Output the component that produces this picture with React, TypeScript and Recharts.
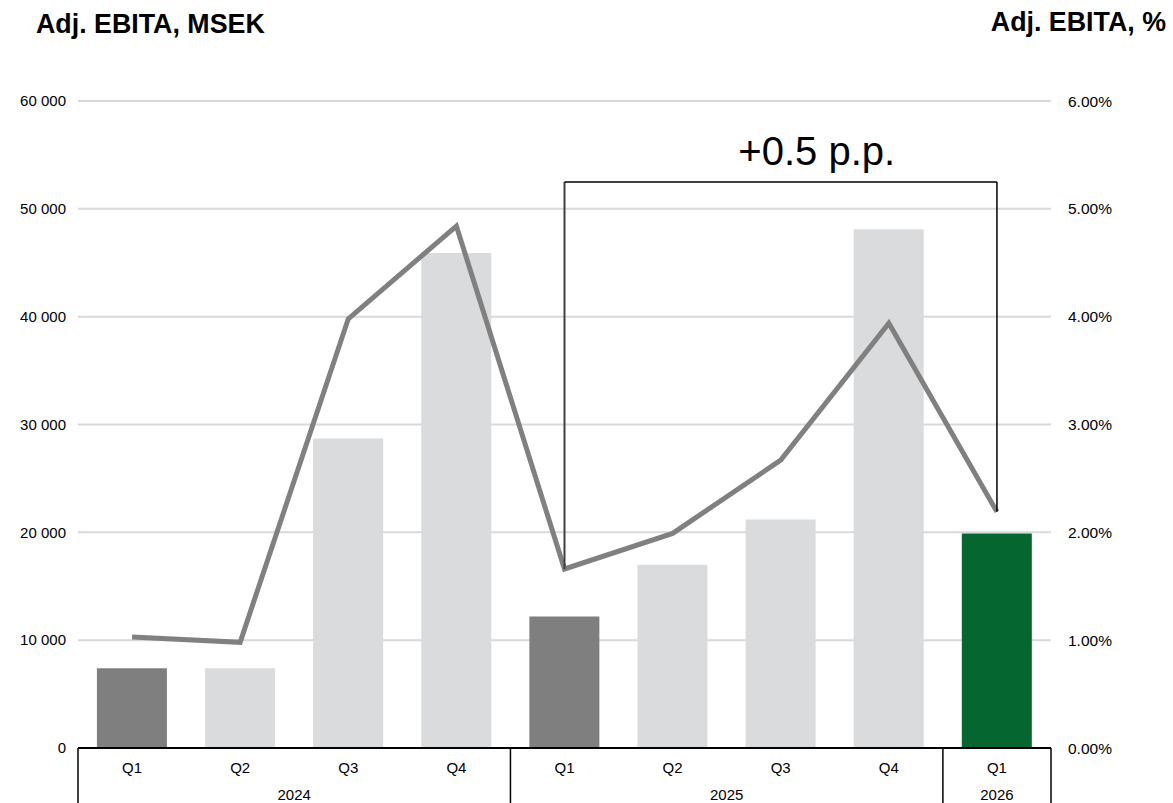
import React from 'react';
import {
  ComposedChart,
  Bar,
  Line,
  Cell,
  XAxis,
  YAxis,
  CartesianGrid,
  ReferenceLine,
} from 'recharts';

// Reporting periods
const quarters = ['Q1', 'Q2', 'Q3', 'Q4', 'Q1', 'Q2', 'Q3', 'Q4', 'Q1'];
const years = ['2024', '2024', '2024', '2024', '2025', '2025', '2025', '2025', '2026'];

// Adj. EBITA, MSEK
const ebitaMsek = [7400, 7400, 28700, 45900, 12200, 17000, 21200, 48100, 19900];
// Adj. EBITA margin, %
const ebitaPct = [1.03, 0.98, 3.98, 4.84, 1.66, 1.99, 2.67, 3.94, 2.19];

// Axis ticks
const leftTicks = [0, 10000, 20000, 30000, 40000, 50000, 60000];
const rightTicks = [0, 1, 2, 3, 4, 5, 6];

// Bar fills: year-start quarters dark, latest quarter green
const barColors = [
  '#7f7f7f', '#dadbdc', '#dadbdc', '#dadbdc',
  '#7f7f7f', '#dadbdc', '#dadbdc', '#dadbdc',
  '#06662f',
];

const data = quarters.map((q, i) => ({
  period: `${q} ${years[i]}`,
  quarter: q,
  year: years[i],
  msek: ebitaMsek[i],
  pct: ebitaPct[i],
}));

const WIDTH = 1173;
const HEIGHT = 803;
const LEFT_AXIS_W = 78;
const RIGHT_AXIS_W = 122;
const TOP = 101;
const X_AXIS_H = 55;
const BAND = (WIDTH - LEFT_AXIS_W - RIGHT_AXIS_W) / data.length;

const FONT = '"Liberation Sans", Arial, sans-serif';

// Bracket spanning the year-over-year comparison of Q1
const fromIdx = 4;
const toIdx = 8;
const BRACKET_LEVEL = 5.25;
const delta = ebitaPct[toIdx] - ebitaPct[fromIdx];
const deltaLabel = `${delta >= 0 ? '+' : ''}${delta.toFixed(1)} p.p.`;

const fmtThousands = (v: number) =>
  String(v).replace(/\B(?=(\d{3})+(?!\d))/g, ' ');

// Two-tier category tick: quarter on top, year centred below its group,
// with separators at the group boundaries.
const PeriodTick = (props: any) => {
  const { x, y, index } = props;
  const d = data[index];
  if (!d) return null;
  const isGroupStart = index === 0 || data[index - 1].year !== d.year;
  let groupLen = 0;
  if (isGroupStart) {
    for (let j = index; j < data.length && data[j].year === d.year; j++) groupLen++;
  }
  const isLast = index === data.length - 1;
  const left = x - BAND / 2;
  return (
    <g>
      <text
        x={x}
        y={y + 25}
        textAnchor="middle"
        fontSize={15}
        fontFamily={FONT}
        fill="#000"
      >
        {d.quarter}
      </text>
      {isGroupStart && (
        <>
          <line x1={left} x2={left} y1={y} y2={HEIGHT} stroke="#000" strokeWidth={1.5} />
          <text
            x={left + (groupLen * BAND) / 2}
            y={y + 52}
            textAnchor="middle"
            fontSize={15}
            fontFamily={FONT}
            fill="#000"
          >
            {d.year}
          </text>
        </>
      )}
      {isLast && (
        <line x1={x + BAND / 2} x2={x + BAND / 2} y1={y} y2={HEIGHT} stroke="#000" strokeWidth={1.5} />
      )}
    </g>
  );
};

const DeltaLabel = (props: any) => {
  const vb = props.viewBox || {};
  const cx = (vb.x ?? 0) + (vb.width ?? 0) / 2 + 36;
  const cy = (vb.y ?? 0) - 17;
  return (
    <text x={cx} y={cy} textAnchor="middle" fontSize={40} fontFamily={FONT} fill="#000">
      {deltaLabel}
    </text>
  );
};

const titleStyle: React.CSSProperties = {
  position: 'absolute',
  top: 9,
  fontSize: 26.8,
  fontWeight: 'bold',
  color: '#000',
  whiteSpace: 'nowrap',
  lineHeight: 'normal',
};

export default function App() {
  const from = data[fromIdx];
  const to = data[toIdx];
  return (
    <div
      style={{
        position: 'absolute',
        left: 0,
        top: 0,
        width: WIDTH,
        height: HEIGHT,
        background: '#fff',
        fontFamily: FONT,
      }}
    >
      <div style={{ ...titleStyle, left: 36 }}>Adj. EBITA, MSEK</div>
      <div style={{ ...titleStyle, right: 7, top: 7 }}>Adj. EBITA, %</div>
      <ComposedChart
        width={WIDTH}
        height={HEIGHT}
        data={data}
        margin={{ top: TOP, right: 0, bottom: 0, left: 0 }}
        barCategoryGap="17.5%"
      >
        <CartesianGrid
          yAxisId="msek"
          vertical={false}
          stroke="#d9d9d9"
          strokeWidth={2}
        />
        <XAxis
          dataKey="period"
          height={X_AXIS_H}
          tickLine={false}
          tickSize={0}
          tickMargin={0}
          axisLine={{ stroke: '#000', strokeWidth: 2 }}
          interval={0}
          tick={<PeriodTick />}
        />
        <YAxis
          yAxisId="msek"
          orientation="left"
          width={LEFT_AXIS_W}
          domain={[0, 60000]}
          ticks={leftTicks}
          tickFormatter={fmtThousands}
          axisLine={false}
          tickLine={false}
          tickSize={0}
          tickMargin={12}
          tick={{ fontSize: 15, fill: '#000', fontFamily: FONT }}
        />
        <YAxis
          yAxisId="pct"
          orientation="right"
          width={RIGHT_AXIS_W}
          domain={[0, 6]}
          ticks={rightTicks}
          tickFormatter={(v: number) => `${v.toFixed(2)}%`}
          axisLine={false}
          tickLine={false}
          tickSize={0}
          tickMargin={17}
          tick={{ fontSize: 15.5, fill: '#000', fontFamily: FONT }}
        />
        <Bar yAxisId="msek" dataKey="msek" isAnimationActive={false}>
          {data.map((d, i) => (
            <Cell key={d.period} fill={barColors[i]} />
          ))}
        </Bar>
        <Line
          yAxisId="pct"
          dataKey="pct"
          type="linear"
          stroke="#808080"
          strokeWidth={5}
          dot={false}
          activeDot={false}
          isAnimationActive={false}
        />
        <ReferenceLine
          yAxisId="pct"
          segment={[
            { x: from.period, y: from.pct },
            { x: from.period, y: BRACKET_LEVEL },
          ]}
          stroke="#404040"
          strokeWidth={2}
        />
        <ReferenceLine
          yAxisId="pct"
          segment={[
            { x: from.period, y: BRACKET_LEVEL },
            { x: to.period, y: BRACKET_LEVEL },
          ]}
          stroke="#000"
          strokeWidth={1.5}
          label={<DeltaLabel />}
        />
        <ReferenceLine
          yAxisId="pct"
          segment={[
            { x: to.period, y: BRACKET_LEVEL },
            { x: to.period, y: to.pct },
          ]}
          stroke="#000"
          strokeWidth={1.5}
        />
      </ComposedChart>
    </div>
  );
}
